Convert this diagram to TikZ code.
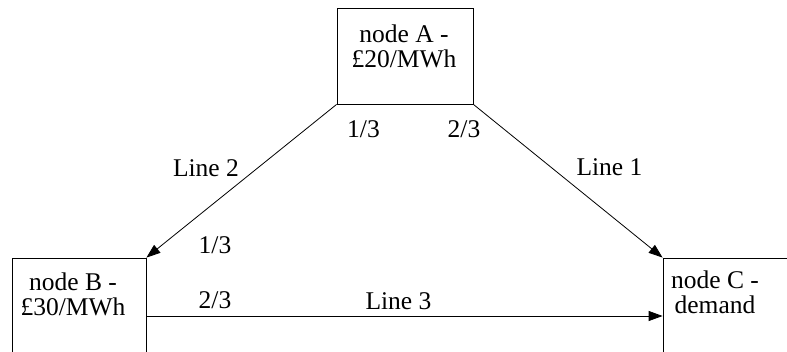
\documentclass[tikz,border=0pt]{standalone}
\usepackage{fontspec}
\setmainfont{Liberation Serif}
\usetikzlibrary{arrows.meta}
\begin{document}
\begin{tikzpicture}[x=1pt,y=1pt,
  box/.style={draw=black, line width=0.8pt, rectangle, inner sep=0pt},
  txt/.style={font=\fontsize{25.5}{25}\selectfont, inner sep=0pt, anchor=base},
  conn/.style={draw=black, line width=0.8pt, -{Triangle[length=14pt,width=10pt]}}]
\clip (0,0) rectangle (787,351);
\fill[white] (0,0) rectangle (787,351);
% boxes
\node[box, minimum width=136pt, minimum height=96pt] (A) at (405,295) {};
\node[box, minimum width=134pt, minimum height=116pt] (B) at (79,35) {};
\node[box, minimum width=137pt, minimum height=116pt] (C) at (731.5,35) {};
% box texts
\node[txt] (Atxt) at (404,308.3) {\begin{tabular}[t]{@{}c@{}}node A -\hspace{10pt}\\£20/MWh\end{tabular}};
\node[txt] (Btxt) at (73,61) {\begin{tabular}[t]{@{}c@{}}node B -\hspace{3pt}\\£30/MWh\end{tabular}};
\node[txt] (Ctxt) at (715,62.3) {\begin{tabular}[t]{@{}c@{}}node C -\hspace{18pt}\\demand\end{tabular}};
% connectors
\draw[conn] (A.south west) -- (B.north east);
\draw[conn] (A.south east) -- (C.north west);
\draw[conn] (B.east) -- (C.west);
% labels
\node[txt] (l1) at (363.5,213) {1/3};
\node[txt] (l2) at (464,213) {2/3};
\node[txt] (l3) at (206,174) {Line 2};
\node[txt] (l4) at (609.5,175) {Line 1};
\node[txt] (l5) at (215,98) {1/3};
\node[txt] (l6) at (215,43) {2/3};
\node[txt] (l7) at (398.5,42) {Line 3};
\end{tikzpicture}
\end{document}
